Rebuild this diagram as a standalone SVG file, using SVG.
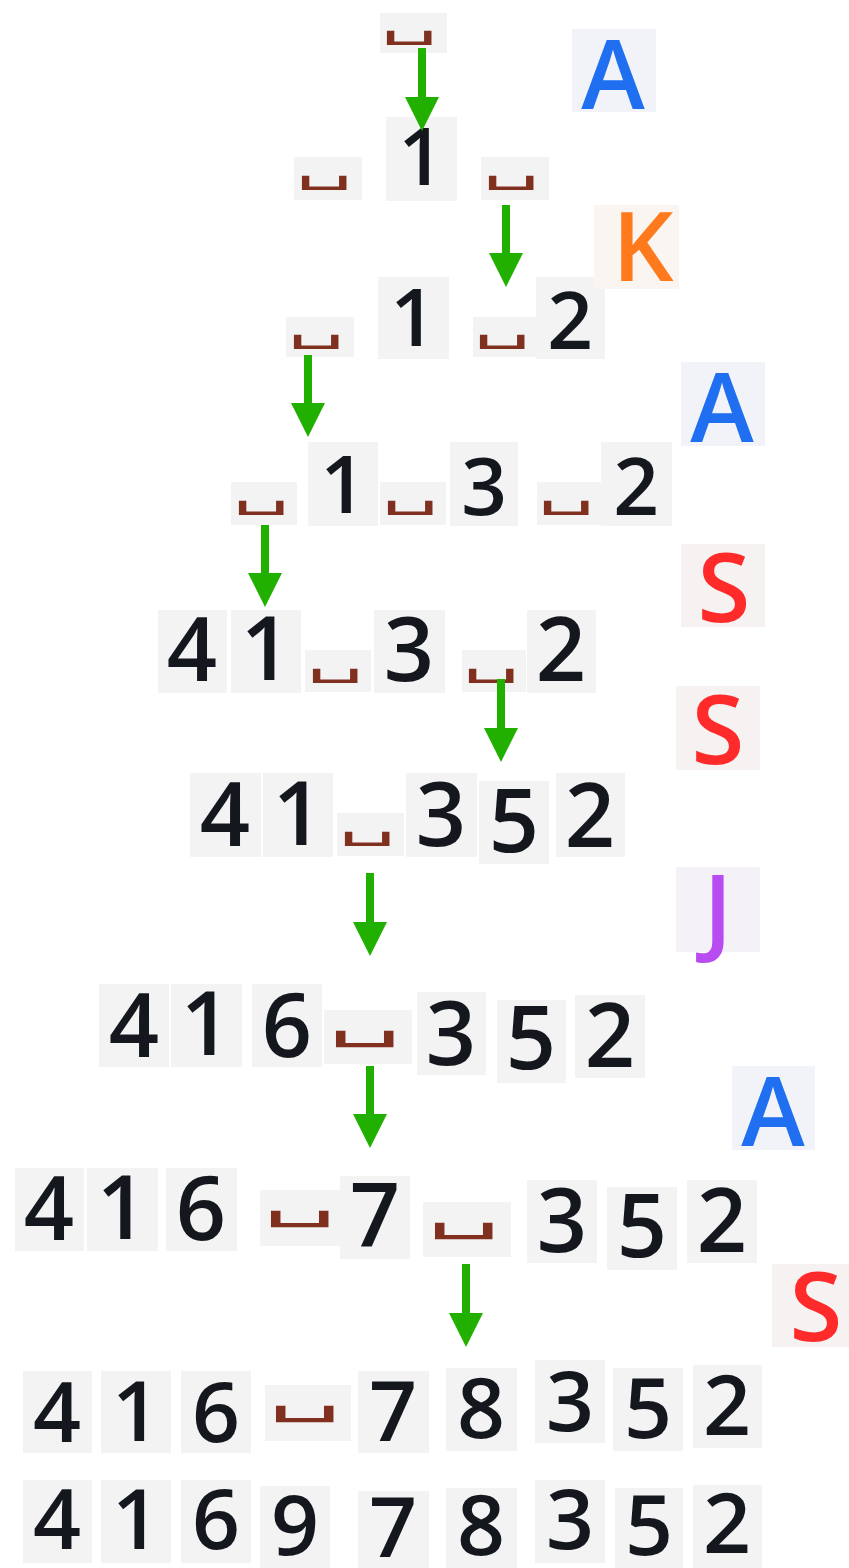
<svg xmlns="http://www.w3.org/2000/svg" width="849" height="1568" viewBox="0 0 849 1568">
<defs>
<style>
.t{fill:#f3f3f3}
.d{font-family:"Open Sans","Noto Sans",sans-serif;font-weight:600;font-size:88px;fill:#14171d;text-anchor:middle}
.s{font-size:80px}
.m{font-size:84px}
.b{font-family:"DejaVu Sans",sans-serif;font-size:60px;fill:#80301e;text-anchor:middle}
.L{font-family:"Open Sans","Noto Sans",sans-serif;font-weight:600;font-size:96px;text-anchor:middle}
.blue{fill:#1f6ff0}.orange{fill:#ff7a1c}.red{fill:#ff2b2b}.purple{fill:#b84cf0}
.arr{stroke:#22b000;stroke-width:8;fill:none}
</style>
<marker id="ah" viewBox="0 0 34 34" markerUnits="userSpaceOnUse" markerWidth="34" markerHeight="34" refX="1" refY="17" orient="auto">
<path d="M0,0 L34,17 L0,34 z" fill="#22b000"/>
</marker>
</defs>
<rect width="849" height="1568" fill="#ffffff"/>

<g id="row1">
<g id="n1a"><rect class="t" x="380" y="13" width="67" height="40"/><text class="b" transform="translate(409 35) scale(1.5 0.72)">␣</text></g>
</g>
<g id="row2">
<g id="n2a"><rect class="t" x="294" y="157" width="68" height="43"/><text class="b" transform="translate(324 180) scale(1.5 0.72)">␣</text></g>
<g id="n2b"><rect class="t" x="386" y="117" width="71" height="84"/><text class="d s" x="421" y="185">1</text></g>
<g id="n2c"><rect class="t" x="481" y="157" width="68" height="43"/><text class="b" transform="translate(511 180) scale(1.5 0.72)">␣</text></g>
</g>
<g id="row3">
<g id="n3a"><rect class="t" x="286" y="317" width="68" height="40"/><text class="b" transform="translate(316 339) scale(1.5 0.72)">␣</text></g>
<g id="n3b"><rect class="t" x="378" y="277" width="71" height="82"/><text class="d s" x="413" y="346">1</text></g>
<g id="n3c"><rect class="t" x="473" y="317" width="64" height="40"/><text class="b" transform="translate(502 339) scale(1.5 0.72)">␣</text></g>
<g id="n3d"><rect class="t" x="536" y="277" width="69" height="82"/><text class="d s" x="570" y="349">2</text></g>
</g>
<g id="row4">
<g id="n4a"><rect class="t" x="231" y="482" width="66" height="43"/><text class="b" transform="translate(261 505) scale(1.5 0.72)">␣</text></g>
<g id="n4b"><rect class="t" x="308" y="442" width="70" height="84"/><text class="d s" x="343" y="513">1</text></g>
<g id="n4c"><rect class="t" x="380" y="482" width="66" height="43"/><text class="b" transform="translate(410 505) scale(1.5 0.72)">␣</text></g>
<g id="n4d"><rect class="t" x="450" y="442" width="68" height="84"/><text class="d s" x="484" y="515">3</text></g>
<g id="n4e"><rect class="t" x="537" y="482" width="64" height="43"/><text class="b" transform="translate(566 505) scale(1.5 0.72)">␣</text></g>
<g id="n4f"><rect class="t" x="601" y="442" width="71" height="84"/><text class="d s" x="636" y="515">2</text></g>
</g>
<g id="row5">
<g id="n5a"><rect class="t" x="158" y="610" width="69" height="83"/><text class="d" x="192" y="681">4</text></g>
<g id="n5b"><rect class="t" x="231" y="610" width="70" height="83"/><text class="d" x="266" y="680">1</text></g>
<g id="n5c"><rect class="t" x="305" y="650" width="66" height="42"/><text class="b" transform="translate(335 673) scale(1.5 0.72)">␣</text></g>
<g id="n5d"><rect class="t" x="374" y="610" width="71" height="83"/><text class="d" x="409" y="681">3</text></g>
<g id="n5e"><rect class="t" x="462" y="650" width="64" height="42"/><text class="b" transform="translate(491 673) scale(1.5 0.72)">␣</text></g>
<g id="n5f"><rect class="t" x="527" y="610" width="69" height="83"/><text class="d" x="561" y="681">2</text></g>
</g>
<g id="row6">
<g id="n6a"><rect class="t" x="190" y="773" width="71" height="84"/><text class="d" x="225" y="846">4</text></g>
<g id="n6b"><rect class="t" x="263" y="773" width="70" height="84"/><text class="d" x="298" y="845">1</text></g>
<g id="n6c"><rect class="t" x="337" y="813" width="67" height="43"/><text class="b" transform="translate(367 836) scale(1.5 0.72)">␣</text></g>
<g id="n6d"><rect class="t" x="406" y="773" width="71" height="84"/><text class="d" x="441" y="846">3</text></g>
<g id="n6e"><rect class="t" x="479" y="781" width="70" height="83"/><text class="d" x="514" y="852">5</text></g>
<g id="n6f"><rect class="t" x="556" y="773" width="69" height="84"/><text class="d" x="590" y="847">2</text></g>
</g>
<g id="row7">
<g id="n7a"><rect class="t" x="99" y="984" width="70" height="83"/><text class="d" x="134" y="1057">4</text></g>
<g id="n7b"><rect class="t" x="171" y="984" width="71" height="83"/><text class="d" x="206" y="1055">1</text></g>
<g id="n7c"><rect class="t" x="252" y="984" width="70" height="83"/><text class="d" x="287" y="1057">6</text></g>
<g id="n7d"><rect class="t" x="324" y="1010" width="88" height="54"/><text class="b" transform="translate(364 1036) scale(1.93 0.84)">␣</text></g>
<g id="n7e"><rect class="t" x="417" y="992" width="69" height="83"/><text class="d" x="451" y="1065">3</text></g>
<g id="n7f"><rect class="t" x="497" y="1000" width="69" height="83"/><text class="d" x="531" y="1069">5</text></g>
<g id="n7g"><rect class="t" x="575" y="995" width="70" height="83"/><text class="d" x="610" y="1067">2</text></g>
</g>
<g id="row8">
<g id="n8a"><rect class="t" x="15" y="1168" width="69" height="83"/><text class="d" x="49" y="1240">4</text></g>
<g id="n8b"><rect class="t" x="87" y="1168" width="71" height="83"/><text class="d" x="122" y="1239">1</text></g>
<g id="n8c"><rect class="t" x="166" y="1168" width="71" height="83"/><text class="d" x="201" y="1240">6</text></g>
<g id="n8d"><rect class="t" x="260" y="1190" width="87" height="56"/><text class="b" transform="translate(299 1216) scale(1.93 0.84)">␣</text></g>
<g id="n8e"><rect class="t" x="340" y="1176" width="70" height="83"/><text class="d" x="375" y="1247">7</text></g>
<g id="n8f"><rect class="t" x="423" y="1202" width="88" height="55"/><text class="b" transform="translate(463 1228) scale(1.93 0.84)">␣</text></g>
<g id="n8g"><rect class="t" x="527" y="1180" width="70" height="83"/><text class="d" x="562" y="1252">3</text></g>
<g id="n8h"><rect class="t" x="607" y="1187" width="70" height="83"/><text class="d" x="642" y="1257">5</text></g>
<g id="n8i"><rect class="t" x="687" y="1180" width="70" height="83"/><text class="d" x="722" y="1252">2</text></g>
</g>
<g id="row9">
<g id="n9a"><rect class="t" x="23" y="1371" width="69" height="82"/><text class="d m" x="57" y="1442">4</text></g>
<g id="n9b"><rect class="t" x="101" y="1371" width="70" height="82"/><text class="d m" x="136" y="1441">1</text></g>
<g id="n9c"><rect class="t" x="181" y="1371" width="70" height="82"/><text class="d m" x="216" y="1442">6</text></g>
<g id="n9d"><rect class="t" x="265" y="1385" width="86" height="56"/><text class="b" transform="translate(304 1411) scale(1.93 0.84)">␣</text></g>
<g id="n9e"><rect class="t" x="358" y="1371" width="71" height="82"/><text class="d m" x="393" y="1441">7</text></g>
<g id="n9f"><rect class="t" x="446" y="1368" width="71" height="83"/><text class="d m" x="481" y="1438">8</text></g>
<g id="n9g"><rect class="t" x="535" y="1360" width="70" height="83"/><text class="d m" x="570" y="1431">3</text></g>
<g id="n9h"><rect class="t" x="613" y="1368" width="70" height="83"/><text class="d m" x="648" y="1438">5</text></g>
<g id="n9i"><rect class="t" x="693" y="1365" width="69" height="83"/><text class="d m" x="727" y="1435">2</text></g>
</g>
<g id="row10">
<g id="n10a"><rect class="t" x="23" y="1480" width="69" height="83"/><text class="d m" x="57" y="1549">4</text></g>
<g id="n10b"><rect class="t" x="101" y="1480" width="70" height="83"/><text class="d m" x="136" y="1549">1</text></g>
<g id="n10c"><rect class="t" x="181" y="1480" width="70" height="83"/><text class="d m" x="216" y="1549">6</text></g>
<g id="n10d"><rect class="t" x="260" y="1486" width="70" height="83"/><text class="d m" x="295" y="1555">9</text></g>
<g id="n10e"><rect class="t" x="358" y="1491" width="71" height="83"/><text class="d m" x="393" y="1557">7</text></g>
<g id="n10f"><rect class="t" x="446" y="1488" width="71" height="83"/><text class="d m" x="481" y="1555">8</text></g>
<g id="n10g"><rect class="t" x="535" y="1480" width="70" height="83"/><text class="d m" x="570" y="1549">3</text></g>
<g id="n10h"><rect class="t" x="615" y="1488" width="68" height="83"/><text class="d m" x="649" y="1555">5</text></g>
<g id="n10i"><rect class="t" x="693" y="1485" width="69" height="83"/><text class="d m" x="727" y="1553">2</text></g>
</g>

<g id="labels">
<g id="lA1"><rect x="572" y="29" width="84" height="83" fill="#f1f3f9"/><text class="L blue" x="613" y="109">A</text></g>
<g id="lK"><rect x="594" y="205" width="85" height="84" fill="#fbf5f1"/><text class="L orange" x="643" y="281">K</text></g>
<g id="lA2"><rect x="681" y="362" width="84" height="84" fill="#f1f3f9"/><text class="L blue" x="722" y="442">A</text></g>
<g id="lS1"><rect x="681" y="544" width="84" height="83" fill="#f6f2f2"/><text class="L red" x="724" y="622">S</text></g>
<g id="lS2"><rect x="676" y="686" width="84" height="84" fill="#f6f2f2"/><text class="L red" x="718" y="764">S</text></g>
<g id="lJ"><rect x="676" y="867" width="84" height="85" fill="#f5f2f7"/><text class="L purple" x="718" y="944">J</text></g>
<g id="lA3"><rect x="732" y="1066" width="83" height="84" fill="#f1f3f9"/><text class="L blue" x="773" y="1146">A</text></g>
<g id="lS3"><rect x="772" y="1264" width="77" height="83" fill="#f6f2f2"/><text class="L red" x="816" y="1341">S</text></g>
</g>

<g id="connectors">
<line class="arr" x1="422" y1="48" x2="422" y2="98" marker-end="url(#ah)"/>
<line class="arr" x1="506" y1="205" x2="506" y2="254" marker-end="url(#ah)"/>
<line class="arr" x1="308" y1="355" x2="308" y2="404" marker-end="url(#ah)"/>
<line class="arr" x1="265" y1="525" x2="265" y2="574" marker-end="url(#ah)"/>
<line class="arr" x1="501" y1="679" x2="501" y2="729" marker-end="url(#ah)"/>
<line class="arr" x1="370" y1="873" x2="370" y2="923" marker-end="url(#ah)"/>
<line class="arr" x1="370" y1="1066" x2="370" y2="1115" marker-end="url(#ah)"/>
<line class="arr" x1="466" y1="1264" x2="466" y2="1314" marker-end="url(#ah)"/>
</g>
</svg>
